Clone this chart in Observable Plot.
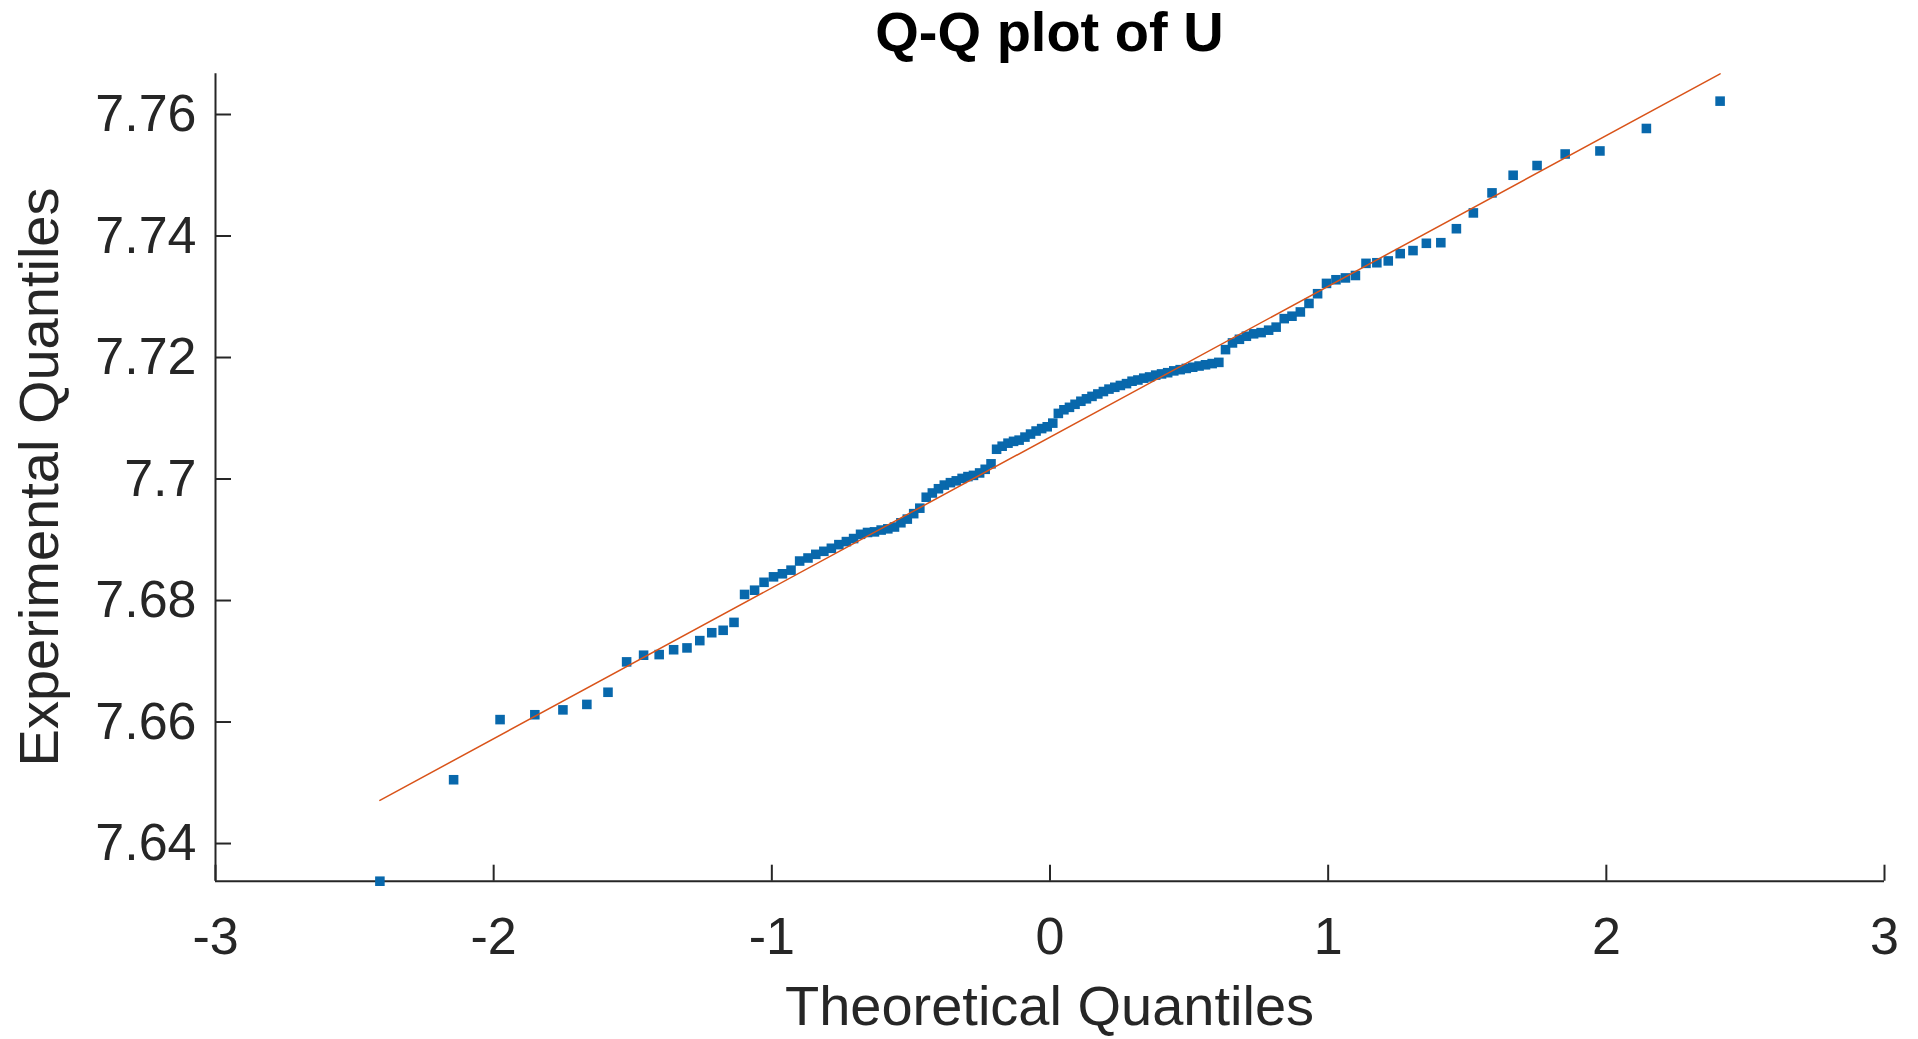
<!DOCTYPE html>
<html>
<head>
<meta charset="utf-8">
<script src="https://cdn.jsdelivr.net/npm/d3@7"></script>
<script src="https://cdn.jsdelivr.net/npm/@observablehq/plot@0.6"></script>
<style>
  html, body { margin: 0; padding: 0; background: #fff; overflow: hidden; }
  #chart svg { display: block; }
</style>
</head>
<body>
<div id="chart"></div>
<script>
// ---- data ----
const titleText = "Q-Q plot of U";
const xLabelText = "Theoretical Quantiles";
const yLabelText = "Experimental Quantiles";

const theoreticalQuantiles = [
  -2.409,-2.144,-1.977,-1.852,-1.751,-1.665,-1.589,-1.522,-1.461,-1.405,
  -1.353,-1.305,-1.259,-1.216,-1.175,-1.136,-1.098,-1.062,-1.028,-0.994,
  -0.962,-0.931,-0.900,-0.870,-0.842,-0.813,-0.786,-0.759,-0.732,-0.706,
  -0.681,-0.656,-0.631,-0.607,-0.583,-0.559,-0.536,-0.513,-0.490,-0.468,
  -0.445,-0.423,-0.401,-0.380,-0.358,-0.337,-0.316,-0.295,-0.275,-0.253,
  -0.233,-0.212,-0.192,-0.172,-0.151,-0.131,-0.111,-0.090,-0.070,-0.050,
  -0.030,-0.010,
  0.010,0.030,0.050,0.070,0.090,0.111,0.131,0.151,0.172,0.192,
  0.212,0.233,0.253,0.275,0.295,0.316,0.337,0.358,0.380,0.401,
  0.423,0.445,0.468,0.490,0.513,0.536,0.559,0.583,0.607,0.631,
  0.656,0.681,0.706,0.732,0.759,0.786,0.813,0.842,0.870,0.900,
  0.931,0.962,0.994,1.028,1.062,1.098,1.136,1.175,1.216,1.259,
  1.305,1.353,1.405,1.461,1.522,1.589,1.665,1.751,1.852,1.977,
  2.144,2.409
];

const experimentalQuantiles = [
  7.6338,7.6505,7.6604,7.6612,7.6620,7.6629,7.6649,7.6699,7.6710,7.6711,
  7.6719,7.6722,7.6734,7.6747,7.6751,7.6764,7.6810,7.6817,7.6830,7.6839,
  7.6844,7.6850,7.6865,7.6870,7.6876,7.6881,7.6886,7.6892,7.6897,7.6902,
  7.6909,7.6912,7.6913,7.6916,7.6918,7.6921,7.6928,7.6934,7.6943,7.6952,
  7.6970,7.6977,7.6984,7.6990,7.6994,7.6997,7.7001,7.7004,7.7006,7.7010,
  7.7016,7.7025,7.7049,7.7054,7.7059,7.7062,7.7064,7.7069,7.7074,7.7079,
  7.7083,7.7086,7.7092,7.7108,7.7114,7.7118,7.7123,7.7128,7.7132,7.7136,
  7.7140,7.7144,7.7148,7.7151,7.7154,7.7157,7.7161,7.7163,7.7166,7.7168,
  7.7171,7.7173,7.7175,7.7178,7.7180,7.7182,7.7184,7.7186,7.7188,7.7190,
  7.7192,7.7213,7.7224,7.7230,7.7235,7.7239,7.7241,7.7245,7.7250,7.7264,
  7.7268,7.7275,7.7289,7.7305,7.7322,7.7328,7.7331,7.7335,7.7355,7.7356,
  7.7359,7.7371,7.7376,7.7388,7.7389,7.7412,7.7438,7.7471,7.7500,7.7516,
  7.7535,7.7540,7.7577,7.7622
];

// reference line end points
const refLineX = [-2.409, 2.409];
const refLineY = [7.6471, 7.7667];

const xTicks = [-3, -2, -1, 0, 1, 2, 3];
const yTicks = [7.64, 7.66, 7.68, 7.70, 7.72, 7.74, 7.76];
const xDomain = [-3, 3];
const yDomain = [7.6338, 7.7667];

// ---- layout / style ----
const W = 1918, H = 1039;
const mL = 215, mR = 34, mT = 73.3, mB = 158.3;
const innerW = W - mL - mR, innerH = H - mT - mB;
const tickLen = 16;
const axisColor = "#262626";
const fontFamily = "'Liberation Sans', Arial, Helvetica, sans-serif";

const points = theoreticalQuantiles.map((x, i) => ({x, y: experimentalQuantiles[i]}));
const refLine = refLineX.map((x, i) => ({x, y: refLineY[i]}));

const plot = Plot.plot({
  width: W,
  height: H,
  marginLeft: mL,
  marginRight: mR,
  marginTop: mT,
  marginBottom: mB,
  style: {fontFamily, fontSize: "52px", color: axisColor, background: "#fff", overflow: "visible"},
  x: {domain: xDomain, label: null},
  y: {domain: yDomain, label: null},
  marks: [
    Plot.axisX(xTicks, {tickSize: 0, tickPadding: 36, tickFormat: d => String(d), label: null, fill: axisColor}),
    Plot.axisY(yTicks, {tickSize: 0, tickPadding: 19, tickFormat: d => String(d), label: null, fill: axisColor}),
    Plot.tickX(xTicks, {x: d => d, insetTop: innerH - tickLen, stroke: axisColor, strokeWidth: 2}),
    Plot.tickY(yTicks, {y: d => d, insetRight: innerW - tickLen, stroke: axisColor, strokeWidth: 2}),
    Plot.ruleX([xDomain[0]], {stroke: axisColor, strokeWidth: 2}),
    Plot.ruleY([yDomain[0]], {stroke: axisColor, strokeWidth: 2}),
    Plot.dot(points, {x: "x", y: "y", symbol: "square", r: 5.4, fill: "#0868AC", stroke: "none"}),
    Plot.line(refLine, {x: "x", y: "y", stroke: "#D95319", strokeWidth: 1.5})
  ]
});

const svg = d3.select(plot);
svg.append("text")
  .attr("x", mL + innerW / 2).attr("y", 51)
  .attr("text-anchor", "middle")
  .attr("font-family", fontFamily).attr("font-weight", "bold").attr("font-size", 56)
  .attr("fill", "#000")
  .text(titleText);
svg.append("text")
  .attr("x", mL + innerW / 2).attr("y", 1025)
  .attr("text-anchor", "middle")
  .attr("font-family", fontFamily).attr("font-size", 56)
  .attr("fill", axisColor)
  .text(xLabelText);
svg.append("text")
  .attr("transform", `translate(58, ${mT + innerH / 2}) rotate(-90)`)
  .attr("text-anchor", "middle")
  .attr("font-family", fontFamily).attr("font-size", 56)
  .attr("fill", axisColor)
  .text(yLabelText);

document.getElementById("chart").appendChild(plot);
</script>
</body>
</html>
